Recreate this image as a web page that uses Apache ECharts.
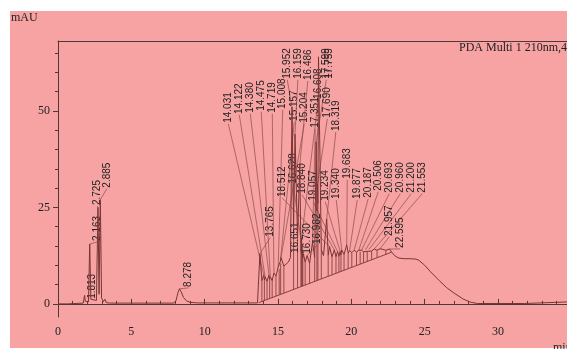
<!DOCTYPE html>
<html><head><meta charset="utf-8">
<script src="https://cdn.jsdelivr.net/npm/echarts@6/dist/echarts.min.js"></script>
<style>
html,body{margin:0;padding:0;background:#fff;}
#bg{position:absolute;left:10px;top:11px;width:557px;height:337px;background:#f7a3a3;}
#c{position:absolute;left:0;top:0;width:567px;height:349px;}
</style></head><body>
<div id="bg"></div><div id="c"></div>
<script>
// chromatogram trace [time (min), absorbance (mAU)]
const trace = [
[0,0],[0.65,0],[0.72,0.2],[1.72,0.2],[1.78,0.6],[1.813,2.2],[1.86,0.7],[2.08,0.5],[2.163,15.5],[2.24,1.2],
[2.62,0.9],[2.725,25],[2.8,2.5],[2.885,27],[2.97,1.5],[3.1,0.6],[3.2,1.2],[3.3,0.3],[3.6,0.2],[7.9,0.2],
[8.05,0.9],[8.18,2.9],[8.278,3.9],[8.4,3.1],[8.55,1.7],[8.75,0.8],[9.0,0.4],[9.5,0.25],[13.6,0.25],[13.68,0.3],
[13.765,13],[13.9,6],[14.031,7.5],[14.07,6.2],[14.122,7],[14.25,5.8],[14.38,7.5],[14.43,6.3],[14.475,7],[14.6,6],
[14.719,8],[14.86,7.2],[15.008,9.5],[15.08,9],[15.157,11],[15.18,10.5],[15.204,12],[15.4,9.8],[15.7,10.8],[15.85,12],
[15.952,51],[16.06,20],[16.159,44],[16.33,17],[16.486,36],[16.56,13.5],[16.608,17],[16.618,13],[16.628,15],[16.64,12.8],
[16.651,14],[16.69,11.8],[16.73,13],[16.85,10.8],[16.982,12.5],[17.15,10.5],[17.351,16],[17.5,12],[17.599,42],[17.65,24],
[17.69,31],[17.72,26],[17.759,64],[17.95,14],[18.1,12.5],[18.319,22],[18.42,12.6],[18.512,14.8],[18.68,12.2],[18.84,14],
[18.95,12.2],[19.057,13.6],[19.15,12.3],[19.234,13.6],[19.29,12.6],[19.34,14],[19.5,12.8],[19.683,15.3],[19.78,13.2],[19.877,13.8],
[20.03,13.3],[20.187,13.9],[20.35,13.4],[20.506,13.9],[20.6,13.5],[20.693,13.9],[20.83,13.5],[20.96,14],[21.08,13.6],[21.2,14.1],
[21.38,13.7],[21.553,14.2],[21.75,13.9],[21.957,14.3],[22.35,13.9],[22.595,14.2],[22.75,13.4],[22.95,12.5],[23.2,11.9],[23.6,11.7],
[24.0,11.7],[24.4,11.6],[24.6,11.3],[25.0,10.0],[25.4,8.3],[26.0,6.0],[26.5,4.2],[27.0,2.8],[27.6,1.3],[28.1,0.45],
[28.6,0.1],[31.8,0.1],[31.9,0.45],[34.7,0.5]
];
// integration baseline end points and drop-line times
const baselineEnds = [[13.68,0.3],[22.75,13.4]];
const dropTimes = [13.9,14.07,14.25,14.43,14.6,14.86,15.08,15.18,15.4,16.06,16.33,16.56,16.618,16.64,16.69,16.85,17.15,17.5,17.65,17.72,17.95,18.42,18.68,18.95,19.15,19.29,19.5,19.78,20.03,20.35,20.6,20.83,21.08,21.38,21.75,22.35];
// peak labels
const peakNames = ['1.813','2.163','2.725','2.885','8.278','13.765','14.031','14.122','14.380','14.475','14.719','15.008','15.952','15.157','16.159','15.204','16.486','17.351','16.608','17.599','17.759','17.690','18.319','18.512','16.628','18.840','19.057','19.234','19.340','19.683','19.877','20.187','20.506','20.693','20.960','21.200','21.553','21.957','22.595','16.651','16.730','16.982'];
// where each label sits (time, mAU of its lower end)
const labelSpots = [[2.34,1.3],[2.68,16.3],[2.68,25.6],[3.33,30.1],[8.88,4.4],[14.47,17.4],[11.61,46.9],[12.36,49.2],[13.11,49.5],[13.86,50.0],[14.61,49.5],[15.32,50.5],[15.63,58.3],[16.11,47.4],[16.35,58.3],[16.79,46.9],[17.03,58.0],[17.54,45.6],[17.74,53.1],[18.29,58.3],[18.46,58.3],[18.36,48.2],[18.94,44.8],[15.29,27.7],[16.04,31.1],[16.65,28.5],[17.40,26.7],[18.22,26.7],[18.97,27.2],[19.72,32.4],[20.40,27.2],[21.15,27.5],[21.83,29.3],[22.58,28.8],[23.33,28.8],[24.08,28.8],[24.83,28.8],[22.58,17.6],[23.33,14.5],[16.18,13.2],[16.99,13.0],[17.67,15.5]];
const xTickLabels = [0,5,10,15,20,25,30];
const xMinorTicks = [0,1,2,3,4,5,6,7,8,9,10,11,12,13,14,15,16,17,18,19,20,21,22,23,24,25,26,27,28,29,30,31,32,33,34];
const yTickLabels = [0,25,50];
const yMinorTicks = [0,5,10,15,20,25,30,35,40,45,50,55,60,65];

const X_MIN = 0, X_MAX = 34.7, Y_MIN = -3.4, Y_MAX = 68.1;
const AX = '#503838', TR = '#7a3434', LD = '#8e4a4a', TX = '#222';
const serif = 'Liberation Serif';

function traceAt(t){ for (const p of trace) if (Math.abs(p[0]-t) < 1e-6) return p[1]; return null; }
function baseAt(t){ const a=baselineEnds[0], b=baselineEnds[1]; return a[1] + (b[1]-a[1])*(t-a[0])/(b[0]-a[0]); }

const chart = echarts.init(document.getElementById('c'), null, {renderer:'canvas'});
const xBase = {type:'value', min:X_MIN, max:X_MAX, gridIndex:0, splitLine:{show:false}};
const yBase = {type:'value', min:Y_MIN, max:Y_MAX, gridIndex:0, splitLine:{show:false}};
chart.setOption({
  animation:false,
  grid:{left:58, right:0, top:41, bottom:32, containLabel:false, outerBoundsMode:'none'},
  xAxis:[
    Object.assign({}, xBase, {position:'bottom', interval:5,
      axisLine:{show:true, lineStyle:{color:AX, width:1}},
      axisTick:{show:true, inside:true, length:5, customValues:xTickLabels, lineStyle:{color:AX}},
      axisLabel:{show:true, customValues:xTickLabels, margin:9, color:TX, fontFamily:serif, fontSize:12}}),
    Object.assign({}, xBase, {position:'bottom',
      axisLine:{show:false},
      axisTick:{show:true, inside:true, length:3, customValues:xMinorTicks, lineStyle:{color:AX}},
      axisLabel:{show:false}}),
    Object.assign({}, xBase, {position:'top',
      axisLine:{show:true, lineStyle:{color:AX, width:1}}, axisTick:{show:false}, axisLabel:{show:false}})
  ],
  yAxis:[
    Object.assign({}, yBase, {position:'left',
      axisLine:{show:true, lineStyle:{color:AX, width:1}},
      axisTick:{show:true, inside:false, length:5, customValues:yTickLabels, lineStyle:{color:AX}},
      axisLabel:{show:true, customValues:yTickLabels, margin:8, color:TX, fontFamily:serif, fontSize:12}}),
    Object.assign({}, yBase, {position:'left',
      axisLine:{show:false},
      axisTick:{show:true, inside:false, length:3, customValues:yMinorTicks, lineStyle:{color:AX}},
      axisLabel:{show:false}})
  ],
  graphic:[
    {type:'text', left:11, top:12, style:{text:'mAU', font:'12px "Liberation Serif"', fill:TX}},
    {type:'text', left:459, top:42, style:{text:'PDA Multi 1 210nm,4nm', font:'12px "Liberation Serif"', fill:TX}},
    {type:'text', left:553, top:342, style:{text:'min', font:'12px "Liberation Serif"', fill:TX}}
  ],
  series:[
    {type:'custom', xAxisIndex:0, yAxisIndex:0, silent:true,
      data: dropTimes.map(t => [t, traceAt(t), baseAt(t)]),
      renderItem:(params, api) => {
        const top = api.coord([api.value(0), api.value(1)]);
        const bot = api.coord([api.value(0), api.value(2)]);
        return {type:'line', shape:{x1:top[0], y1:top[1], x2:bot[0], y2:bot[1]}, style:{stroke:TR, lineWidth:0.8}};
      }},
    {type:'line', xAxisIndex:0, yAxisIndex:0, data:baselineEnds, showSymbol:false, silent:true,
      lineStyle:{color:TR, width:0.9}},
    {type:'line', xAxisIndex:0, yAxisIndex:0, data:trace, showSymbol:false, silent:true,
      lineStyle:{color:TR, width:1}},
    {type:'custom', xAxisIndex:0, yAxisIndex:0, silent:true,
      data: peakNames.map((n,i) => [labelSpots[i][0], labelSpots[i][1], i]),
      renderItem:(params, api) => {
        const i = api.value(2);
        const name = peakNames[i];
        const p = api.coord([api.value(0), api.value(1)]);
        const rt = parseFloat(name);
        const v = traceAt(rt);
        const children = [];
        if (v !== null) {
          const a = api.coord([rt, v]);
          if (a[1] > p[1] + 1) {
            children.push({type:'line', shape:{x1:p[0], y1:p[1]+1, x2:a[0], y2:a[1]}, style:{stroke:LD, lineWidth:0.7}});
          }
        }
        children.push({type:'text', x:p[0], y:p[1], rotation:Math.PI/2,
          style:{text:name, fill:TX, font:'10px "Liberation Sans"', align:'left', verticalAlign:'middle'}});
        return {type:'group', children};
      }}
  ]
});
</script>
</body></html>
